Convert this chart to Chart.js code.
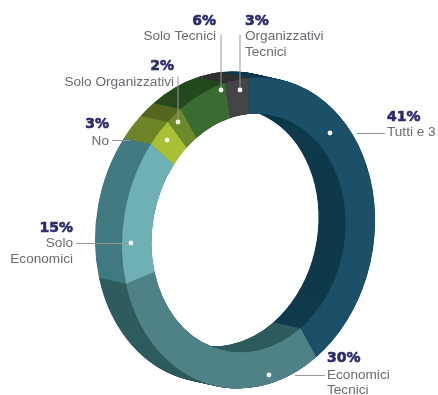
<!DOCTYPE html>
<html>
<head>
<meta charset="utf-8">
<style>
html,body{margin:0;padding:0;background:#fff;}
canvas{display:block;}
</style>
<script src="https://cdn.jsdelivr.net/npm/chart.js@4"></script>
</head>
<body>
<canvas id="ring" width="438" height="395"></canvas>
<script>
const categories = ["Tutti e 3", "Economici Tecnici", "Solo Economici", "No", "Solo Organizzativi", "Solo Tecnici", "Organizzativi Tecnici"];
const shares = [41, 30, 15, 3, 2, 6, 3];
const faceColors = ["#1c5068", "#4f8286", "#6fb0b5", "#a9bf36", "#6d8a2c", "#3a6b30", "#444345"];
const wallColors = ["#0e3a4b", "#2f5c5e", "#427a80", "#6d8428", "#54661f", "#254a1f", "#333335"];

// Geometry of the tilted ring: front-face ellipse, its shear and the extrusion depth.
const ring = { cx: 248.5, cy: 233, rx: 126.5, ry: 155, shear: -0.1, depthX: -27, depthY: -6 };

// Callouts: dot and leader line over each slice, then the text block beside it.
const callouts = [
  { pct: "41%", lines: ["Tutti e 3"], align: "left", x: 387, pctY: 121, lineY: [136], dot: [330, 133], lead: [[357, 133], [385, 133]] },
  { pct: "30%", lines: ["Economici", "Tecnici"], align: "left", x: 327, pctY: 362, lineY: [379, 394], dot: [269, 375], lead: [[295, 375], [325, 375]] },
  { pct: "15%", lines: ["Solo", "Economici"], align: "right", x: 73, pctY: 232, lineY: [247, 263], dot: [131, 243], lead: [[76, 243], [131, 243]] },
  { pct: "3%", lines: ["No"], align: "right", x: 109, pctY: 128, lineY: [145], dot: [167, 140], lead: [[112, 140], [130, 140]] },
  { pct: "2%", lines: ["Solo Organizzativi"], align: "right", x: 174, pctY: 70, lineY: [86], dot: [178, 122], lead: [[178, 76], [178, 122]] },
  { pct: "6%", lines: ["Solo Tecnici"], align: "right", x: 216, pctY: 25, lineY: [40], dot: [221, 90], lead: [[221, 34], [221, 90]] },
  { pct: "3%", lines: ["Organizzativi", "Tecnici"], align: "left", x: 245, pctY: 25, lineY: [40, 56], dot: [240, 90], lead: [[240, 34], [240, 90]] }
];

// Maps the library's circular doughnut onto the ring's ellipse, shifted along the extrusion.
function applyEllipse(ctx, arc, shift) {
  ctx.translate(ring.cx + ring.depthX * shift, ring.cy + ring.depthY * shift);
  ctx.transform(1, ring.shear, 0, 1, 0, 0);
  ctx.scale(ring.rx / arc.outerRadius, ring.ry / arc.outerRadius);
  ctx.translate(-arc.x, -arc.y);
}

const ringPlugin = {
  id: "tiltedRing",
  beforeDatasetsDraw(chart) {
    const { ctx } = chart;
    const arcs = chart.getDatasetMeta(0).data;
    const originals = arcs.map(a => a.options);
    // Side wall: the same arcs repeated from the back plane to the front plane.
    const steps = 60;
    for (let s = steps; s >= 0; s--) {
      arcs.forEach((arc, i) => {
        const o = Object.create(originals[i]);
        o.backgroundColor = wallColors[i];
        arc.options = o;
        ctx.save();
        applyEllipse(ctx, arc, s / steps);
        arc.draw(ctx);
        ctx.restore();
      });
    }
    arcs.forEach((arc, i) => { arc.options = originals[i]; });
    ctx.save();
    applyEllipse(ctx, arcs[0], 0);
  },
  afterDatasetsDraw(chart) {
    const { ctx } = chart;
    ctx.restore();
    callouts.forEach(c => {
      ctx.strokeStyle = "#9a979c";
      ctx.lineWidth = 1;
      ctx.beginPath();
      ctx.moveTo(c.lead[0][0], c.lead[0][1] + 0.5);
      ctx.lineTo(c.lead[1][0], c.lead[1][1] + 0.5);
      ctx.stroke();
      ctx.fillStyle = "#f4f4f2";
      ctx.beginPath();
      ctx.arc(c.dot[0], c.dot[1], 2.4, 0, Math.PI * 2);
      ctx.fill();
      ctx.textAlign = c.align;
      ctx.textBaseline = "alphabetic";
      ctx.font = "bold 14px 'DejaVu Sans'";
      ctx.fillStyle = "#2b2b6b";
      ctx.strokeStyle = "#2b2b6b";
      ctx.lineWidth = 0.6;
      ctx.fillText(c.pct, c.x, c.pctY);
      ctx.strokeText(c.pct, c.x, c.pctY);
      ctx.font = "13.6px 'Liberation Sans'";
      ctx.fillStyle = "#6f6972";
      c.lines.forEach((t, i) => ctx.fillText(t, c.x, c.lineY[i]));
    });
  }
};

new Chart(document.getElementById("ring"), {
  type: "doughnut",
  data: {
    labels: categories,
    datasets: [{ data: shares, backgroundColor: faceColors, borderWidth: 0 }]
  },
  options: {
    responsive: false,
    animation: false,
    cutout: "76.7%",
    rotation: 0,
    layout: { padding: 0 },
    plugins: { legend: { display: false }, tooltip: { enabled: false } }
  },
  plugins: [ringPlugin]
});
</script>
</body>
</html>
